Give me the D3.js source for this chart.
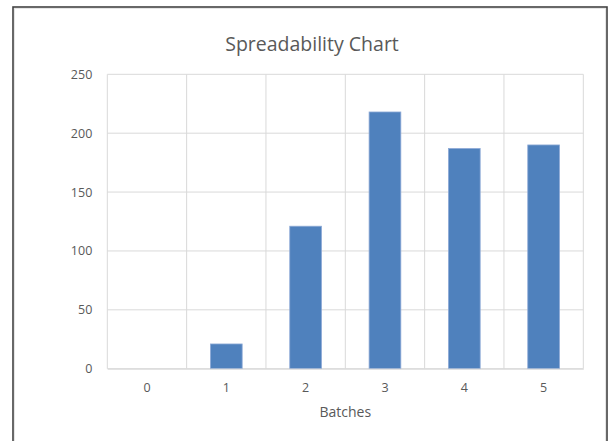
<!DOCTYPE html>
<html><head><meta charset="utf-8">
<script src="https://cdn.jsdelivr.net/npm/d3@7"></script>
<style>body{margin:0;background:#fff}svg{display:block}text{font-family:"Open Sans",sans-serif}</style>
</head><body>
<svg id="c" width="608" height="441"></svg>
<script>
const batches = ["0","1","2","3","4","5"];
const spreadability = [0, 21, 121, 218, 187, 190];
const yTicks = [0, 50, 100, 150, 200, 250];
const title = "Spreadability Chart";
const xTitle = "Batches";

const svg = d3.select("#c");
const m = {left:107.3, right:583.3, top:74.3, bottom:368.7};

// frame
svg.append("path").attr("d","M13.5,445V7.5H606.5V445").attr("fill","none").attr("stroke","#e6e6e6").attr("stroke-width",3);
svg.append("path").attr("d","M13,445V7H607V445").attr("fill","none").attr("stroke","#3f3f3f").attr("stroke-width",1.5);

const x = d3.scaleBand().domain(batches).range([m.left,m.right]).paddingInner(0).paddingOuter(0);
const y = d3.scaleLinear().domain([0,250]).range([m.bottom,m.top]);

// horizontal grid
svg.append("g").selectAll("line").data(yTicks).join("line")
  .attr("x1",m.left).attr("x2",m.right).attr("y1",d=>y(d)).attr("y2",d=>y(d))
  .attr("stroke","#d9d9d9").attr("stroke-width",1);
// vertical grid at category boundaries
const bounds = batches.map(b=>x(b)).concat([m.right]);
svg.append("g").selectAll("line").data(bounds).join("line")
  .attr("x1",d=>d).attr("x2",d=>d).attr("y1",m.top).attr("y2",m.bottom)
  .attr("stroke","#d9d9d9").attr("stroke-width",1);

// bars
const bw = x.bandwidth()*0.4;
svg.append("g").selectAll("rect").data(spreadability).join("rect")
  .attr("x",(d,i)=>x(batches[i])+x.bandwidth()/2-bw/2)
  .attr("width",bw)
  .attr("y",d=>y(d)).attr("height",d=>m.bottom-y(d))
  .attr("fill","#4f81bd").attr("stroke","#8eaad6").attr("stroke-width",0.8)
  .attr("visibility",d=>d>0?"visible":"hidden");

// y axis labels
const yAxis = d3.axisLeft(y).tickValues(yTicks).tickSize(0).tickPadding(15);
const gy = svg.append("g").attr("transform",`translate(${m.left},0)`).call(yAxis);
gy.select(".domain").remove();
gy.selectAll("text").attr("fill","#595959").style("font-size","12.5px").style("font-family","'Open Sans',sans-serif");

// x axis
const xAxis = d3.axisBottom(x).tickSize(0).tickPadding(14);
const gx = svg.append("g").attr("transform",`translate(0,${m.bottom})`).call(xAxis);
gx.select(".domain").attr("stroke","#d9d9d9");
gx.selectAll("text").attr("fill","#595959").style("font-size","12.5px").style("font-family","'Open Sans',sans-serif");

svg.append("text").attr("x",312).attr("y",51).attr("text-anchor","middle")
  .attr("fill","#595959").style("font-size","19.5px").text(title);
svg.append("text").attr("x",(m.left+m.right)/2).attr("y",417).attr("text-anchor","middle")
  .attr("fill","#595959").style("font-size","14px").text(xTitle);
</script>
</body></html>
